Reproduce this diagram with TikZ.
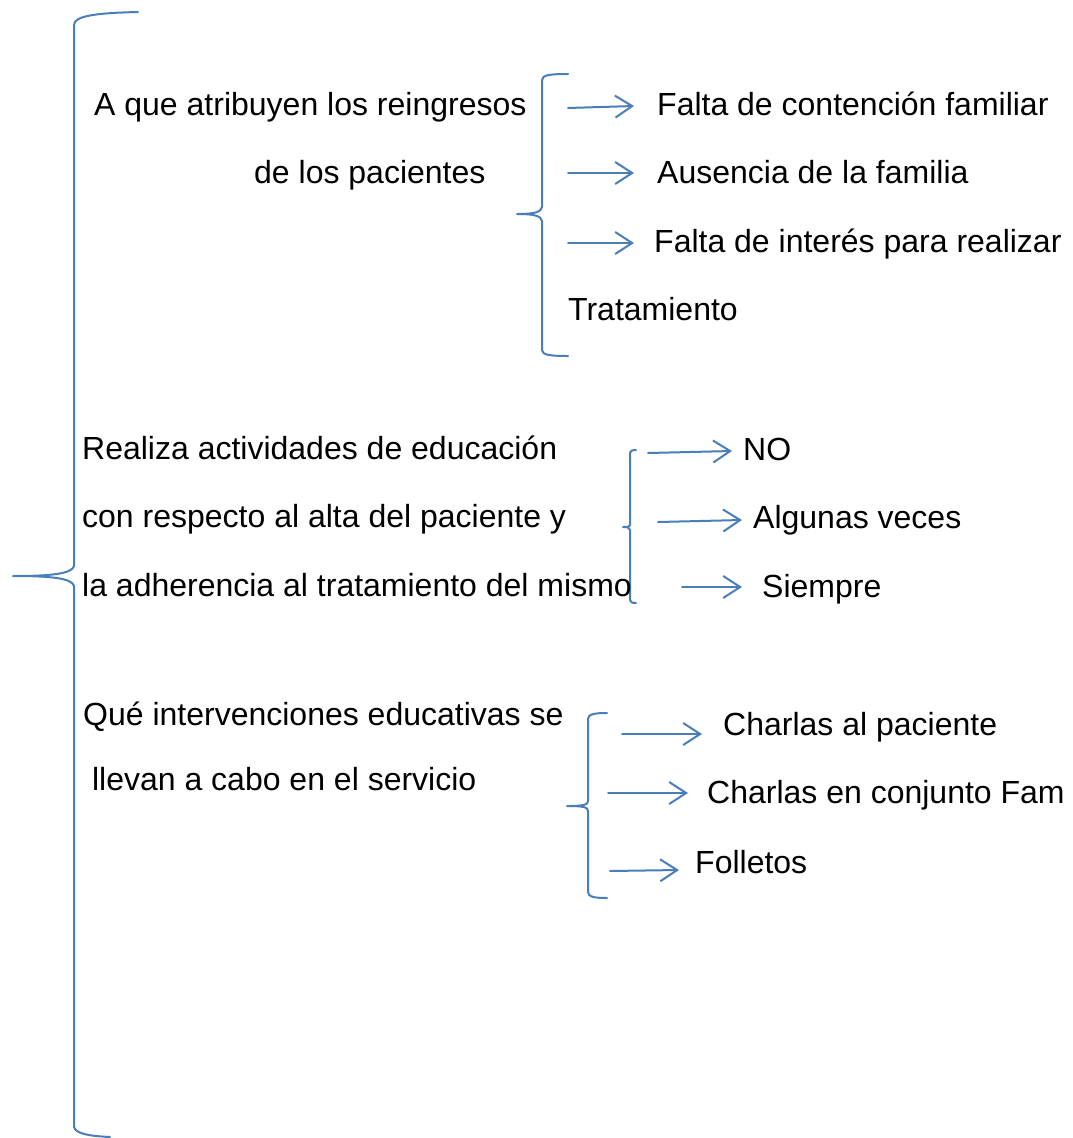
\documentclass[tikz,border=0pt]{standalone}
\usepackage{fontspec}
\setmainfont{Liberation Sans}
\usetikzlibrary{arrows.meta}
\definecolor{bracecol}{RGB}{74,126,187}
\tikzset{
  txt/.style={anchor=base west, inner sep=0pt, font=\fontsize{32}{38}\selectfont, text=black},
  bracepath/.style={draw=bracecol, line width=2pt, line cap=round, line join=round},
  arr/.style={draw=bracecol, line width=2pt, line cap=round, -{Straight Barb[length=17pt,width=22pt,line width=2pt]}},
}
\begin{document}
\begin{tikzpicture}[x=1pt,y=-1pt]
\useasboundingbox (0,0) rectangle (1072,1138);
\fill[white] (0,0) rectangle (1072,1138);

% main brace
\draw[bracepath] (138,12) .. controls (95,13) and (74,16) .. (74,25)
  -- (74,566) .. controls (72,574) and (50,576) .. (13,576)
  .. controls (50,576) and (72,578) .. (74,586)
  -- (74,1127) .. controls (76,1134) and (90,1136) .. (110,1137);

% brace 1
\draw[bracepath] (568,74) .. controls (550,74) and (542,75) .. (542,80)
  -- (542,207) .. controls (541,212) and (535,214) .. (517,214)
  .. controls (535,214) and (541,216) .. (542,221)
  -- (542,350) .. controls (542,355) and (550,356) .. (568,356);

% brace 2
\draw[bracepath] (636,450) .. controls (632,450) and (630,451) .. (630,453)
  -- (630,525) .. controls (630,527) and (628,527) .. (623,527)
  .. controls (628,527) and (630,528) .. (630,530)
  -- (630,600) .. controls (630,602) and (632,603) .. (636,603);

% brace 3
\draw[bracepath] (607,713) .. controls (595,713) and (588,714) .. (588,719)
  -- (588,801) .. controls (588,805) and (583,806) .. (567,806)
  .. controls (583,806) and (588,807) .. (588,811)
  -- (588,892) .. controls (588,897) and (595,898) .. (607,898);

% left texts
\node[txt] (q1a) at (94,115) {A que atribuyen los reingresos};
\node[txt] (q1b) at (254,183) {de los pacientes};
\node[txt] (q2a) at (82,459) {Realiza actividades de educación};
\node[txt] (q2b) at (82,527) {con respecto al alta del paciente y};
\node[txt] (q2c) at (82,596) {la adherencia al tratamiento del mismo};
\node[txt] (q3a) at (83,725) {Qué intervenciones educativas se};
\node[txt] (q3b) at (83,790) {\ llevan a cabo en el servicio};

% right texts
\node[txt] (r1a) at (657,115) {Falta de contención familiar};
\node[txt] (r1b) at (657,183) {Ausencia de la familia};
\node[txt] (r1c) at (654,252) {Falta de interés para realizar};
\node[txt] (r1d) at (568,320) {Tratamiento};
\node[txt] (r2a) at (743,460) {NO};
\node[txt] (r2b) at (753,528) {Algunas veces};
\node[txt] (r2c) at (762,597) {Siempre};
\node[txt] (r3a) at (723,735) {Charlas al paciente};
\node[txt] (r3b) at (707,803) {Charlas en conjunto Fam};
\node[txt] (r3c) at (695,873) {Folletos};

% arrow coordinates
\coordinate (s1a) at (568,108); \coordinate (e1a) at (634,106);
\coordinate (s1b) at (568,173); \coordinate (e1b) at (634,173);
\coordinate (s1c) at (568,243); \coordinate (e1c) at (634,243);
\coordinate (s2a) at (648,453); \coordinate (e2a) at (732,451);
\coordinate (s2b) at (658,522); \coordinate (e2b) at (742,520);
\coordinate (s2c) at (682,587); \coordinate (e2c) at (742,587);
\coordinate (s3a) at (622,734); \coordinate (e3a) at (702,734);
\coordinate (s3b) at (608,793); \coordinate (e3b) at (688,793);
\coordinate (s3c) at (610,871); \coordinate (e3c) at (679,870);

\foreach \a in {1a,1b,1c,2a,2b,2c,3a,3b,3c}
  \draw[arr] (s\a) -- (e\a);
\end{tikzpicture}
\end{document}
